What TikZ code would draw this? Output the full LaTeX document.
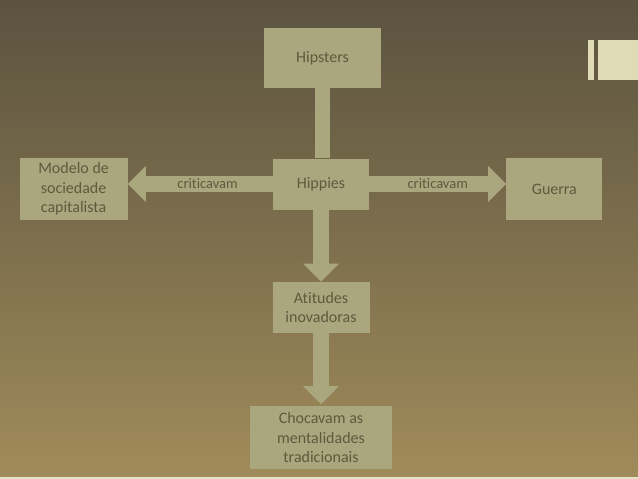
\documentclass[tikz,border=0pt]{standalone}
\usepackage{fontspec}
\setmainfont[RawFeature=-liga]{Carlito}
\usetikzlibrary{positioning, arrows.meta}
\definecolor{Fundo1}{RGB}{91,83,64}
\definecolor{Fundo2}{RGB}{100,91,67}
\definecolor{Fundo3}{RGB}{160,139,90}
\definecolor{Caixa}{RGB}{170,167,127}
\definecolor{Texto}{RGB}{94,90,60}
\definecolor{Enfeite}{RGB}{223,219,182}

\begin{document}
\begin{tikzpicture}[
  x=1pt, y=1pt,
  caixa/.style={
    rectangle, fill=Caixa, text=Texto, inner sep=0pt,
    font=\fontsize{16}{19.5}\selectfont, align=center
  },
  seta/.style={-{Triangle[length=18pt,width=35pt]}, line width=16pt, Caixa},
  barra/.style={line width=15pt, Caixa},
  rotulo/.style={font=\fontsize{14.5}{16}\selectfont, text=Texto, inner sep=0pt}
]

%% ── Fundo ──────────────────────────────────────────────────────────────────
\useasboundingbox (0,0) rectangle (638,-479);
\shade[top color=Fundo1, middle color=Fundo2, bottom color=Fundo3]
  (0,0) rectangle (638,-479);
\fill[Enfeite] (588,-40) rectangle (594,-80);
\fill[Enfeite] (598,-40) rectangle (638,-80);
\fill[Enfeite!80!white] (0,-477) rectangle (638,-479);

%% ── Caixas ─────────────────────────────────────────────────────────────────
\node[caixa, minimum width=96pt, minimum height=51pt] at (321,-184) (hippies) {Hippies};
\node[caixa, minimum width=117pt, minimum height=60pt, above=70pt of hippies, xshift=1.5pt] (hipsters) {Hipsters};
\node[caixa, minimum width=108pt, minimum height=62pt, left=145pt of hippies, yshift=-5pt] (modelo) {Modelo de\\sociedade\\capitalista};
\node[caixa, minimum width=96pt, minimum height=62pt, right=137pt of hippies, yshift=-5pt] (guerra) {Guerra};
\node[caixa, minimum width=97pt, minimum height=51pt, below=72pt of hippies] (atitudes) {Atitudes\\inovadoras};
\node[caixa, minimum width=142pt, minimum height=63pt, below=73pt of atitudes] (chocavam) {Chocavam as\\mentalidades\\tradicionais};

%% ── Setas ──────────────────────────────────────────────────────────────────
\draw[barra] (hipsters.south) -- (hipsters.south |- hippies.north);
\draw[seta]  (hippies) -- node[rotulo, pos=0.45]{criticavam} (modelo.east |- hippies);
\draw[seta]  (hippies) -- node[rotulo]{criticavam} (guerra.west |- hippies);
\draw[seta]  (hippies) -- (atitudes);
\draw[seta]  (atitudes) -- ([yshift=2pt]chocavam.north);

\end{tikzpicture}
\end{document}
